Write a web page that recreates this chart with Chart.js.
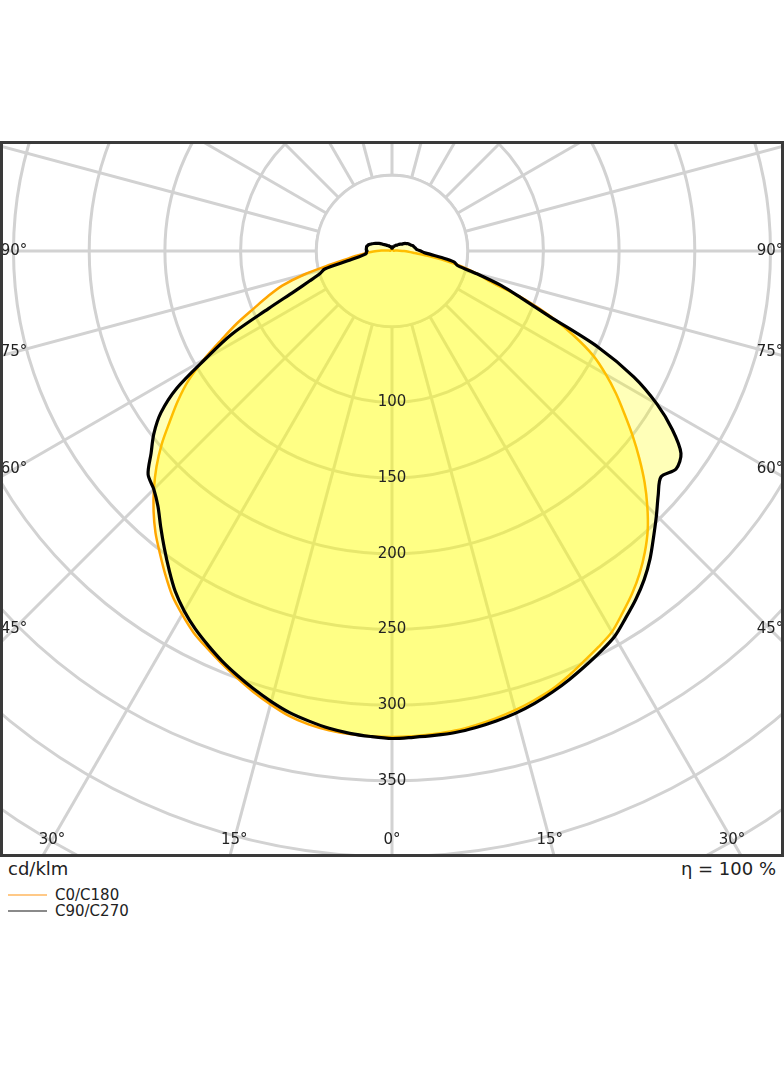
<!DOCTYPE html>
<html>
<head>
<meta charset="utf-8">
<script src="https://cdn.jsdelivr.net/npm/chart.js@4.4.0/dist/chart.umd.min.js"></script>
<style>
  html, body { margin: 0; padding: 0; background: #fff; }
  body { width: 784px; height: 1066px; position: relative; overflow: hidden;
         font-family: "DejaVu Sans", sans-serif; color: #222; }
  #plot { position: absolute; left: 0; top: 141px; width: 784px; height: 716px; overflow: hidden; }
  #plot canvas { position: absolute; left: -365px; top: -647px; }
  #frame { position: absolute; left: 0; top: 141px; width: 784px; height: 716px;
           box-sizing: border-box; border: 3px solid #3a3a3a; pointer-events: none; }
  .unit { position: absolute; left: 8px; top: 858px; font-size: 18px; }
  .eta { position: absolute; right: 8px; top: 858px; font-size: 18px; }
  .legend { position: absolute; left: 8px; top: 887px; font-size: 15px; line-height: 16px; }
  .legend div { display: flex; align-items: center; }
  .legend .sw { display: inline-block; width: 39px; height: 2px; margin-right: 8px; }
</style>
</head>
<body>
<div id="plot"><canvas id="polar" width="1514" height="1514"></canvas></div>
<div id="frame"></div>
<div class="unit">cd/klm</div>
<div class="eta">η = 100 %</div>
<div class="legend">
  <div><span class="sw" style="background:#ffc987"></span>C0/C180</div>
  <div><span class="sw" style="background:#8a8a8a"></span>C90/C270</div>
</div>
<script>
/* luminous intensity, cd/klm, gamma 0..180 in 2.5 deg steps */
const GAMMA_STEP = 2.5;

// C0 (right half) and C180 (left half)
const c0 = [
  321.0, 320.8, 320.3, 319.5, 318.0, 316.2, 314.0, 311.3, 308.3, 304.0,
  299.3, 295.0, 290.5, 283.4, 276.4, 268.6, 259.8, 250.0, 238.5, 226.3,
  213.3, 200.3, 187.4, 175.5, 163.1, 150.0, 132.8, 114.0, 93.2, 69.5,
  58.0, 47.0, 35.0, 23.0, 15.0, 11.0, 8.0, 5.0, 3.0, 2.0,
  1, 1, 1, 1, 1, 1, 1, 1, 1, 1,
  1, 1, 1, 1, 1, 1, 1, 1, 1, 1,
  1, 1, 1, 1, 1, 1, 1, 1, 1, 1,
  1, 1, 1
];
const c180 = [
  321.0, 320.8, 320.3, 319.3, 317.5, 314.5, 310.0, 305.2, 299.9, 294.6,
  289.3, 284.0, 277.2, 270.0, 261.0, 251.8, 243.0, 233.1, 222.4, 211.0,
  198.6, 185.0, 172.7, 159.6, 143.6, 127.0, 112.9, 98.5, 87.0, 76.0,
  60.0, 42.0, 30.0, 23.0, 18.0, 14.0, 10.0, 7.0, 4.0, 2.0,
  1, 1, 1, 1, 1, 1, 1, 1, 1, 1,
  1, 1, 1, 1, 1, 1, 1, 1, 1, 1,
  1, 1, 1, 1, 1, 1, 1, 1, 1, 1,
  1, 1, 1
];

// C90 (right half) and C270 (left half)
const c90 = [
  321.7, 321.5, 321.2, 320.8, 319.6, 318.0, 316.0, 313.3, 310.0, 306.3,
  302.3, 298.3, 294.0, 287.3, 280.8, 273.6, 265.2, 255.8, 247.0, 238.5,
  232.0, 236.5, 233.0, 219.5, 202.0, 180.0, 150.0, 112.0, 91.0, 75.5,
  58.0, 44.5, 41.5, 33.0, 25.5, 21.0, 19.0, 17.0, 16.0, 15.5,
  15.0, 14.5, 14.0, 13.0, 12.5, 12.0, 11.5, 10.5, 10.0, 9.0,
  8.0, 7.5, 7.0, 6.5, 6.0, 5.5, 5.0, 5.0, 4.5, 4.5,
  4.0, 4.0, 3.5, 3.5, 3.0, 3.0, 3.0, 2.5, 2.5, 2.0,
  2.0, 2.0, 2.0
];
const c270 = [
  322.0, 321.0, 319.8, 318.0, 315.3, 312.3, 308.1, 303.4, 298.4, 293.2,
  287.4, 281.4, 274.5, 266.5, 256.8, 247.1, 237.7, 228.8, 222.5, 218.5,
  207.7, 198.3, 186.4, 168.4, 142.0, 120.0, 90.0, 70.0, 58.0, 50.0,
  46.0, 30.0, 22.0, 18.5, 17.0, 17.0, 16.5, 17.0, 17.0, 17.0,
  17.0, 16.5, 16.0, 15.0, 14.0, 13.0, 12.0, 11.0, 10.0, 9.0,
  8.0, 7.0, 6.5, 6.0, 5.5, 5.0, 5.0, 4.5, 4.0, 4.0,
  4.0, 3.5, 3.5, 3.0, 3.0, 3.0, 3.0, 2.5, 2.5, 2.0,
  2.0, 2.0, 2.0
];

const RING_TICKS = [100, 150, 200, 250, 300, 350];
const ANGLE_TICKS = [0, 15, 30, 45, 60, 75, 90];

const GRID = "#d2d2d2";
const FILL = "rgba(255,255,0,0.28)";

// radar goes bottom -> left -> top -> right, so left half first, right half reversed
function ring(left, right) {
  const out = left.slice();
  for (let i = right.length - 2; i >= 1; i--) out.push(right[i]);
  return out;
}
const gammas = c0.map((_, i) => i * GAMMA_STEP);
const labels = ring(gammas, gammas).map(g => g + "°");

/* grid decoration: empty inner disc, ring values, angle labels at the frame */
const polarDecor = {
  id: "polarDecor",
  beforeDatasetsDraw(chart) {
    const r = chart.scales.r, ctx = chart.ctx;
    const d = r.getDistanceFromCenterForValue(50);
    ctx.save();
    ctx.beginPath();
    ctx.arc(r.xCenter, r.yCenter, d, 0, Math.PI * 2);
    ctx.fillStyle = "#fff";
    ctx.fill();
    ctx.lineWidth = 3;
    ctx.strokeStyle = GRID;
    ctx.stroke();
    ctx.restore();
  },
  afterDatasetsDraw(chart) {
    const r = chart.scales.r, ctx = chart.ctx;
    ctx.save();
    ctx.fillStyle = "#222";
    ctx.font = '15px "DejaVu Sans"';
    ctx.textAlign = "center";
    ctx.textBaseline = "middle";
    RING_TICKS.forEach(v => {
      ctx.fillText(String(v), r.xCenter, r.yCenter + r.getDistanceFromCenterForValue(v));
    });

    const cv = chart.canvas.getBoundingClientRect();
    const fr = document.getElementById("plot").getBoundingClientRect();
    const box = { l: fr.left - cv.left + 14, r: fr.right - cv.left - 14, b: fr.bottom - cv.top - 17 };
    ANGLE_TICKS.forEach(g => {
      const sides = g === 0 ? [1] : [-1, 1];
      sides.forEach(s => {
        const a = g * Math.PI / 180;
        const ux = s * Math.sin(a), uy = Math.cos(a);
        let t = Infinity;
        if (ux < -1e-9) t = Math.min(t, (box.l - r.xCenter) / ux);
        if (ux > 1e-9) t = Math.min(t, (box.r - r.xCenter) / ux);
        if (uy > 1e-9) t = Math.min(t, (box.b - r.yCenter) / uy);
        ctx.fillText(g + "°", r.xCenter + t * ux, r.yCenter + t * uy);
      });
    });
    ctx.restore();
  }
};

new Chart(document.getElementById("polar"), {
  type: "radar",
  data: {
    labels,
    datasets: [
      { label: "C0/C180", data: ring(c180, c0), borderColor: "#ffa500", borderWidth: 2.5,
        backgroundColor: FILL, fill: true, order: 1 },
      { label: "C90/C270", data: ring(c270, c90), borderColor: "#000", borderWidth: 3.2,
        backgroundColor: FILL, fill: true, order: 0 }
    ]
  },
  options: {
    responsive: false,
    animation: false,
    layout: { padding: 0 },
    plugins: { legend: { display: false }, tooltip: { enabled: false } },
    elements: {
      point: { radius: 0 },
      line: { tension: 0.3, borderJoinStyle: "round" }
    },
    scales: {
      r: {
        min: 0, max: 500,
        startAngle: 180,
        ticks: { display: false, stepSize: 50 },
        pointLabels: { display: false },
        grid: { circular: true, color: GRID, lineWidth: 3 },
        angleLines: { color: GRID, lineWidth: (c) => (c.index % 6 === 0 ? 3 : 0) }
      }
    }
  },
  plugins: [polarDecor]
});
</script>
</body>
</html>
